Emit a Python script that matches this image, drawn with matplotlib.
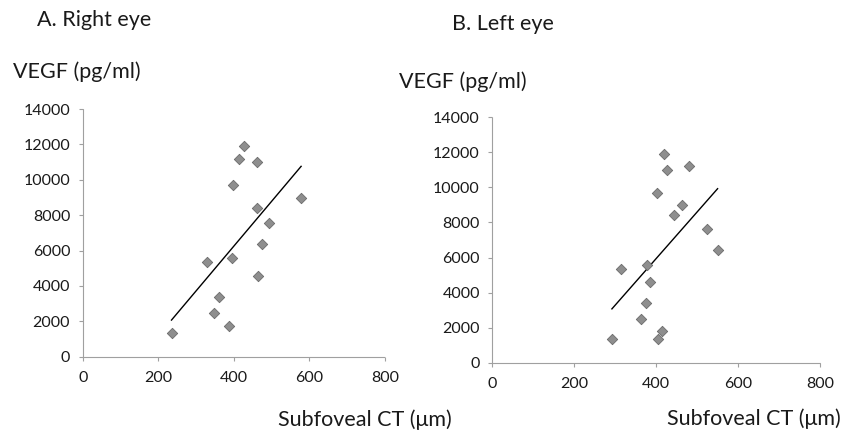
import numpy as np
import matplotlib
matplotlib.use('Agg')
import matplotlib.pyplot as plt

plt.rcParams['font.family'] = ['Lato', 'DejaVu Sans']

# subfoveal choroidal thickness (um) vs VEGF (pg/ml)
right_ct = [235, 330, 360, 348, 386, 395, 398, 414, 428, 462, 462, 494, 474, 463, 578]
right_vegf = [1320, 5350, 3370, 2450, 1740, 5600, 9690, 11190, 11900, 11000, 8420, 7570, 6390, 4560, 8950]

left_ct = [292, 313, 362, 375, 378, 384, 404, 414, 402, 420, 426, 480, 462, 444, 525, 550]
left_vegf = [1350, 5360, 2470, 3390, 5600, 4600, 1340, 1790, 9700, 11900, 11000, 11200, 9000, 8430, 7630, 6430]

x_ticks = [0, 200, 400, 600, 800]
y_ticks = [0, 2000, 4000, 6000, 8000, 10000, 12000, 14000]

W, H = 858, 438
fig = plt.figure(figsize=(W / 100, H / 100), dpi=100)


def px_axes(x0, x1, y_top, y_bot):
    return fig.add_axes([x0 / W, 1 - y_bot / H, (x1 - x0) / W, (y_bot - y_top) / H])


def draw(ax, xs, ys):
    ax.scatter(xs, ys, marker='D', s=28, color='#8e8e8e', edgecolor='#6a6a6a',
               linewidth=0.6, zorder=3)
    k, b = np.polyfit(xs, ys, 1)
    xl = np.array([min(xs), max(xs)])
    ax.plot(xl, k * xl + b, color='black', lw=1.0, zorder=2)
    ax.set_xlim(0, 800)
    ax.set_ylim(0, 14000)
    ax.set_xticks(x_ticks)
    ax.set_yticks(y_ticks)
    for s in ['top', 'right']:
        ax.spines[s].set_visible(False)
    for s in ['left', 'bottom']:
        ax.spines[s].set_color('#a0a0a0')
        ax.spines[s].set_linestyle((0, (1, 1)))
        ax.spines[s].set_linewidth(0.8)
    ax.tick_params(direction='out', length=3, color='#a0a0a0', labelsize=11.5,
                   labelcolor='#1a1a1a')
    ax.tick_params(axis='x', pad=7)
    ax.tick_params(axis='y', pad=6)
    ax.patch.set_alpha(0)


ax1 = px_axes(82.7, 385, 109, 356.7)
draw(ax1, right_ct, right_vegf)
ax2 = px_axes(492.3, 820, 117.3, 362.7)
draw(ax2, left_ct, left_vegf)


def label(x, y, s, size=15.5):
    fig.text(x / W, 1 - y / H, s, fontsize=size, ha='left', va='center', color='#1a1a1a')


label(37, 20, 'A. Right eye')
label(452, 24, 'B. Left eye')
label(13, 72, 'VEGF (pg/ml)')
label(399, 82, 'VEGF (pg/ml)')
label(278, 420, 'Subfoveal CT (μm)')
label(667, 419, 'Subfoveal CT (μm)')

fig.savefig('out.png', dpi=100)
